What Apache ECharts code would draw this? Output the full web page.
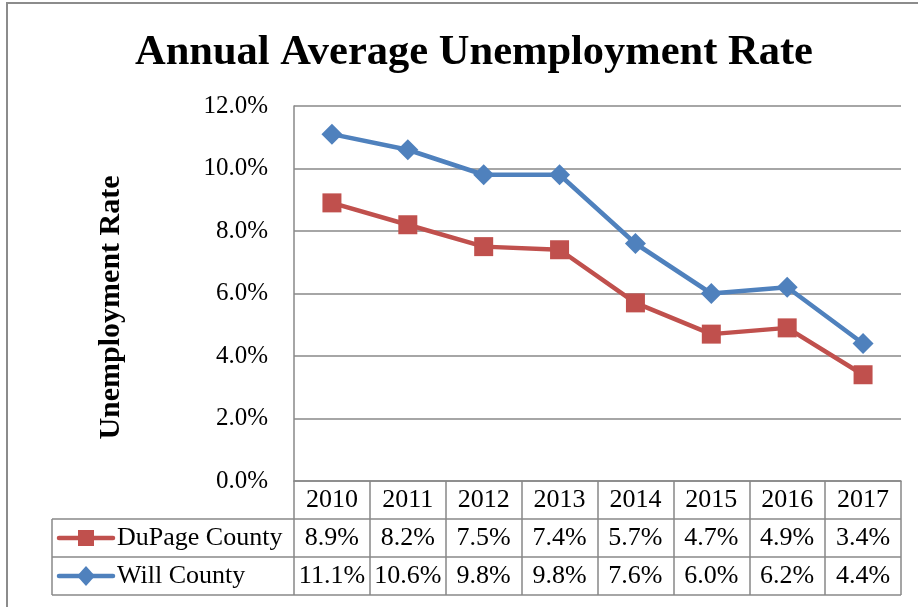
<!DOCTYPE html>
<html>
<head>
<meta charset="utf-8">
<title>Annual Average Unemployment Rate</title>
<script src="https://cdn.jsdelivr.net/npm/echarts@6/dist/echarts.min.js"></script>
<style>
  html, body { margin: 0; padding: 0; background: #fff; }
  #chart { width: 918px; height: 607px; }
</style>
</head>
<body>
<div id="chart"></div>
<script>
// data
const years = ['2010', '2011', '2012', '2013', '2014', '2015', '2016', '2017'];
const dupage = [8.9, 8.2, 7.5, 7.4, 5.7, 4.7, 4.9, 3.4];
const will = [11.1, 10.6, 9.8, 9.8, 7.6, 6.0, 6.2, 4.4];
const yTicks = [0, 2, 4, 6, 8, 10, 12];

const FONT = "'Liberation Serif', 'Times New Roman', serif";
const RED = '#c0504d';
const BLUE = '#4f81bd';
const GRAY = '#888888';

const chart = echarts.init(document.getElementById('chart'));

const seriesDefs = [
  { name: 'DuPage County', data: dupage, color: RED, symbol: 'rect', size: 19 },
  { name: 'Will County', data: will, color: BLUE, symbol: 'diamond', size: 21 }
];

const option = {
  backgroundColor: '#fff',
  animation: false,
  title: {
    text: 'Annual Average Unemployment Rate',
    left: 469,
    top: 27,
    textAlign: 'center',
    textStyle: { fontFamily: FONT, fontSize: 42.5, fontWeight: 'bold', color: '#000' }
  },
  grid: { left: 294, top: 106, right: 17, bottom: 126 },
  xAxis: {
    type: 'category',
    data: years,
    boundaryGap: true,
    axisLine: { lineStyle: { color: GRAY, width: 1.5 } },
    axisTick: { show: true, interval: 0, length: 114, lineStyle: { color: GRAY, width: 1.5 } },
    axisLabel: { margin: 6, fontFamily: FONT, fontSize: 26, color: '#000' },
    splitLine: { show: false }
  },
  yAxis: {
    type: 'value',
    min: yTicks[0],
    max: yTicks[yTicks.length - 1],
    interval: 2,
    name: 'Unemployment Rate',
    nameLocation: 'middle',
    nameRotate: 90,
    nameGap: 168,
    nameTextStyle: {
      fontFamily: FONT, fontSize: 30, fontWeight: 'bold', color: '#000',
      padding: [0, 28, 0, 0]
    },
    axisLine: { show: true, lineStyle: { color: GRAY, width: 1.5 } },
    axisTick: { show: false },
    axisLabel: {
      margin: 26,
      fontFamily: FONT,
      fontSize: 25,
      color: '#000',
      formatter: v => v.toFixed(1) + '%'
    },
    splitLine: { lineStyle: { color: GRAY, width: 1.5 } }
  },
  series: seriesDefs.map(s => ({
    name: s.name,
    type: 'line',
    data: s.data,
    symbol: s.symbol,
    symbolSize: s.size,
    color: s.color,
    lineStyle: { color: s.color, width: 4.5 },
    itemStyle: { color: s.color },
    z: s.color === BLUE ? 3 : 2
  }))
};

chart.setOption(option);

// data table under the plot, built from the axis positions
function drawTable() {
  const x0 = chart.convertToPixel({ xAxisIndex: 0 }, years[0]);
  const x1 = chart.convertToPixel({ xAxisIndex: 0 }, years[1]);
  const colW = x1 - x0;
  const plotRight = x0 - colW / 2 + colW * years.length;
  const axisY = chart.convertToPixel({ yAxisIndex: 0 }, 0);
  const rowH = 38;
  const tableLeft = 52;
  const elements = [];
  const lineStyle = { stroke: GRAY, lineWidth: 1.5 };

  // outer frame of the chart area
  elements.push({
    type: 'rect', shape: { x: 7, y: 3, width: 1000, height: 800 },
    style: { fill: null, stroke: '#8c8c8c', lineWidth: 2 }, silent: true
  });

  for (let r = 1; r <= seriesDefs.length + 1; r++) {
    const y = axisY + rowH * r;
    elements.push({ type: 'line', shape: { x1: tableLeft, y1: y, x2: plotRight, y2: y }, style: lineStyle });
  }
  elements.push({
    type: 'line',
    shape: { x1: tableLeft, y1: axisY + rowH, x2: tableLeft, y2: axisY + rowH * (seriesDefs.length + 1) },
    style: lineStyle
  });

  seriesDefs.forEach((s, i) => {
    const cy = axisY + rowH * (i + 1) + rowH / 2;
    // legend key
    elements.push({
      type: 'line', shape: { x1: 59, y1: cy, x2: 113, y2: cy },
      style: { stroke: s.color, lineWidth: 4.5, lineCap: 'round' }
    });
    if (s.symbol === 'rect') {
      elements.push({ type: 'rect', shape: { x: 86 - 8, y: cy - 8, width: 16, height: 16 }, style: { fill: s.color } });
    } else {
      elements.push({
        type: 'polygon',
        shape: { points: [[86, cy - 10], [95, cy], [86, cy + 10], [77, cy]] },
        style: { fill: s.color }
      });
    }
    elements.push({
      type: 'text', x: 117, y: cy,
      style: { text: s.name, font: '26px ' + FONT, fill: '#000', textVerticalAlign: 'middle', verticalAlign: 'middle' }
    });
    s.data.forEach((v, j) => {
      const cx = chart.convertToPixel({ xAxisIndex: 0 }, years[j]);
      elements.push({
        type: 'text', x: cx, y: cy,
        style: {
          text: v.toFixed(1) + '%', font: '26px ' + FONT, fill: '#000',
          align: 'center', verticalAlign: 'middle', textAlign: 'center', textVerticalAlign: 'middle'
        }
      });
    });
  });

  chart.setOption({ graphic: { elements: elements } });
}

drawTable();
</script>
</body>
</html>
